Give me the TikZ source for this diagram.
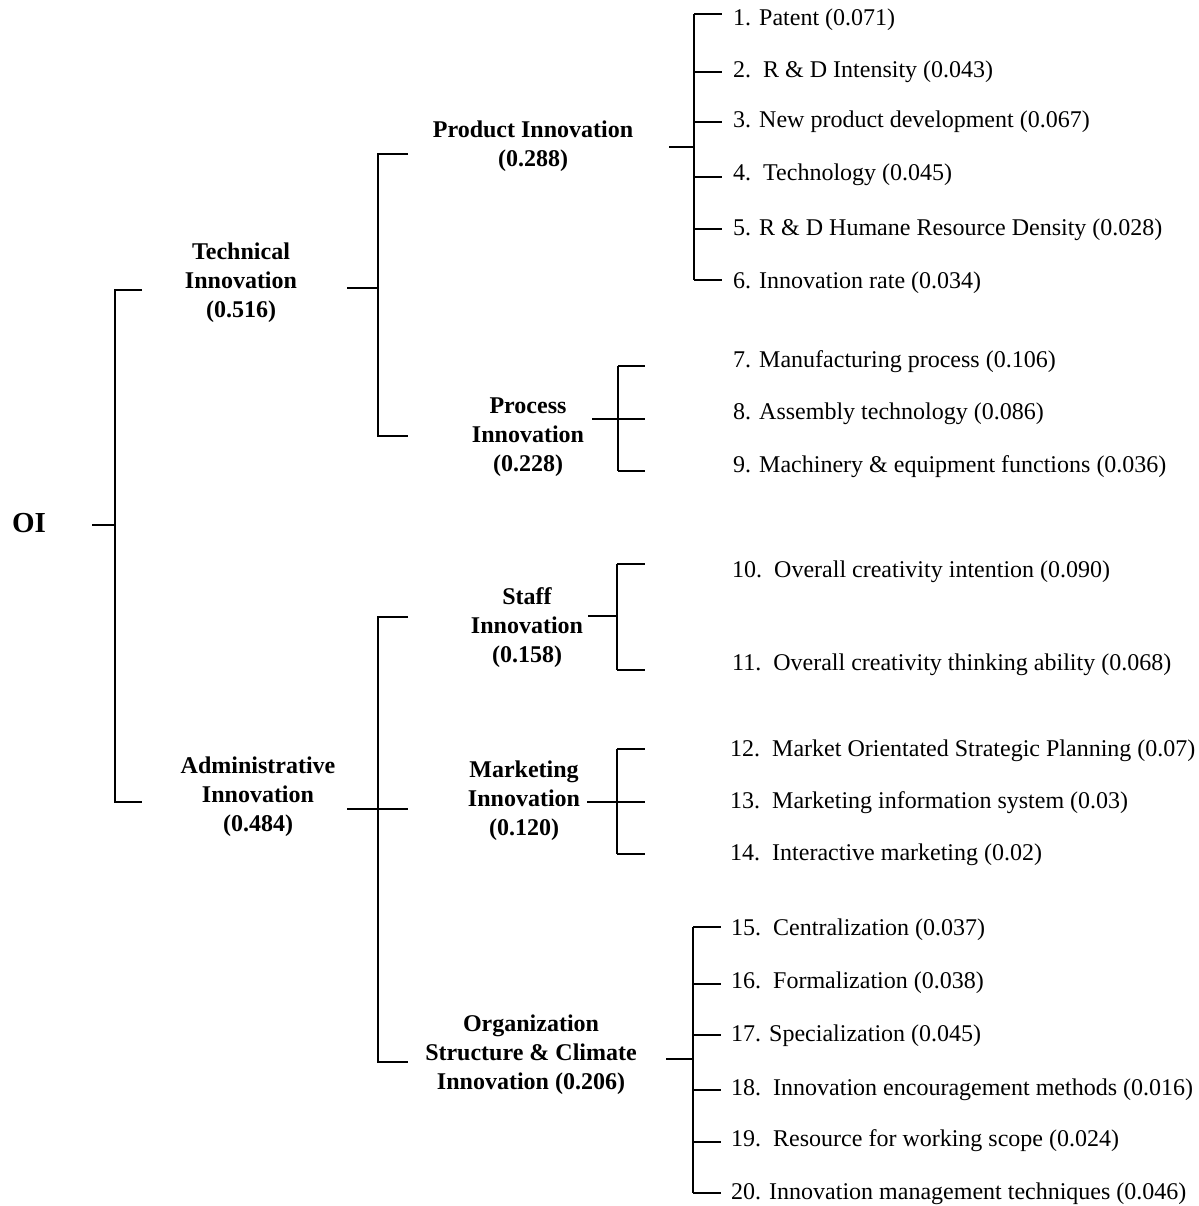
\documentclass[tikz,border=0pt]{standalone}
\usepackage{fontspec}
\setmainfont{Liberation Serif}
\usetikzlibrary{positioning}
\tikzset{
catlabel/.style={
  align=center,
  inner sep=0pt,
  font=\fontsize{24}{29}\selectfont\bfseries
},
rootlabel/.style={
  inner sep=0pt,
  font=\fontsize{29}{34}\selectfont\bfseries
},
itemlabel/.style={
  anchor=west,
  inner sep=0pt,
  font=\fontsize{24}{29}\selectfont
},
bracket/.style={
  line width=1.6pt,
  draw=black
}
}

\begin{document}
\begin{tikzpicture}[x=1pt,y=-1pt]
  \useasboundingbox (0,0) rectangle (1198,1206);

  % category labels
  \node[rootlabel] (oi) at (29,523) {OI};
  \node[catlabel] (ti) at (241,283) {Technical\\Innovation\\(0.516)};
  \node[catlabel] (ai) at (258,797) {Administrative\\Innovation\\(0.484)};
  \node[catlabel] (pi) at (533,146) {Product Innovation\\(0.288)};
  \node[catlabel] (pc) at (528,437) {Process\\Innovation\\(0.228)};
  \node[catlabel] (si) at (527,628) {Staff\\Innovation\\(0.158)};
  \node[catlabel] (mi) at (524,801) {Marketing\\Innovation\\(0.120)};
  \node[catlabel] (oc) at (531,1055) {Organization\\Structure \& Climate\\Innovation (0.206)};

  % indicators
  \foreach \n/\x/\y/\txt in {
    1/733/20/{1. Patent (0.071)},
    2/733/72/{2.\ \ R \& D Intensity (0.043)},
    3/733/122/{3. New product development (0.067)},
    4/733/175/{4.\ \ Technology (0.045)},
    5/733/230/{5. R \& D Humane Resource Density (0.028)},
    6/733/283/{6. Innovation rate (0.034)},
    7/733/362/{7. Manufacturing process (0.106)},
    8/733/414/{8. Assembly technology (0.086)},
    9/733/467/{9. Machinery \& equipment functions (0.036)},
    10/732/572/{10.\ \ Overall creativity intention (0.090)},
    11/732/665/{11.\ \ Overall creativity thinking ability (0.068)},
    12/730/751/{12.\ \ Market Orientated Strategic Planning (0.07)},
    13/730/803/{13.\ \ Marketing information system (0.03)},
    14/730/855/{14.\ \ Interactive marketing (0.02)},
    15/731/930/{15.\ \ Centralization (0.037)},
    16/731/983/{16.\ \ Formalization (0.038)},
    17/731/1036/{17. Specialization (0.045)},
    18/731/1090/{18.\ \ Innovation encouragement methods (0.016)},
    19/731/1141/{19.\ \ Resource for working scope (0.024)},
    20/731/1194/{20. Innovation management techniques (0.046)}}
    \node[itemlabel] (i\n) at (\x,\y) {\txt};

  % bracket points
  \coordinate (oi-in) at (92,525);
  \coordinate (oi-bar) at (115,525);
  \coordinate (r1) at (142,290);
  \coordinate (r2) at (142,802);

  \coordinate (ti-in) at (347,288);
  \coordinate (ti-bar) at (378,288);
  \coordinate (s1) at (408,154);
  \coordinate (s2) at (408,436);

  \coordinate (ai-in) at (347,809);
  \coordinate (ai-bar) at (378,809);
  \coordinate (s3) at (408,617);
  \coordinate (s4) at (408,809);
  \coordinate (s5) at (408,1062);

  \coordinate (pi-in) at (669,147);
  \coordinate (pi-bar) at (694,147);
  \coordinate (pc-in) at (592,419);
  \coordinate (pc-bar) at (618,419);
  \coordinate (si-in) at (588,616);
  \coordinate (si-bar) at (617,616);
  \coordinate (mi-in) at (587,802);
  \coordinate (mi-bar) at (617,802);
  \coordinate (oc-in) at (666,1059);
  \coordinate (oc-bar) at (693,1059);

  \foreach \n/\x/\y in {1/722/14, 2/722/72, 3/722/122, 4/722/177, 5/722/229, 6/722/280,
    7/645/366, 8/645/419, 9/645/471, 10/645/564, 11/645/670,
    12/645/749, 13/645/802, 14/645/854,
    15/721/927, 16/721/984, 17/721/1035, 18/721/1090, 19/721/1142, 20/721/1193}
    \coordinate (t\n) at (\x,\y);

  % root bracket
  \draw[bracket] (oi-in) -- (oi-bar);
  \draw[bracket] (r1) -- (oi-bar |- r1) -- (oi-bar |- r2) -- (r2);

  % technical / administrative
  \draw[bracket] (ti-in) -- (ti-bar);
  \draw[bracket] (s1) -- (ti-bar |- s1) -- (ti-bar |- s2) -- (s2);
  \draw[bracket] (ai-in) -- (s4);
  \draw[bracket] (s3) -- (ai-bar |- s3) -- (ai-bar |- s5) -- (s5);

  % sub-criteria brackets
  \draw[bracket] (pi-in) -- (pi-bar);
  \draw[bracket] (pi-bar |- t1) -- (pi-bar |- t6);
  \foreach \n in {1,...,6}
    \draw[bracket] (pi-bar |- t\n) -- (t\n);

  \draw[bracket] (pc-in) -- (pc-bar);
  \draw[bracket] (pc-bar |- t7) -- (pc-bar |- t9);
  \foreach \n in {7,8,9}
    \draw[bracket] (pc-bar |- t\n) -- (t\n);

  \draw[bracket] (si-in) -- (si-bar);
  \draw[bracket] (si-bar |- t10) -- (si-bar |- t11);
  \foreach \n in {10,11}
    \draw[bracket] (si-bar |- t\n) -- (t\n);

  \draw[bracket] (mi-in) -- (mi-bar);
  \draw[bracket] (mi-bar |- t12) -- (mi-bar |- t14);
  \foreach \n in {12,13,14}
    \draw[bracket] (mi-bar |- t\n) -- (t\n);

  \draw[bracket] (oc-in) -- (oc-bar);
  \draw[bracket] (oc-bar |- t15) -- (oc-bar |- t20);
  \foreach \n in {15,...,20}
    \draw[bracket] (oc-bar |- t\n) -- (t\n);
\end{tikzpicture}
\end{document}
